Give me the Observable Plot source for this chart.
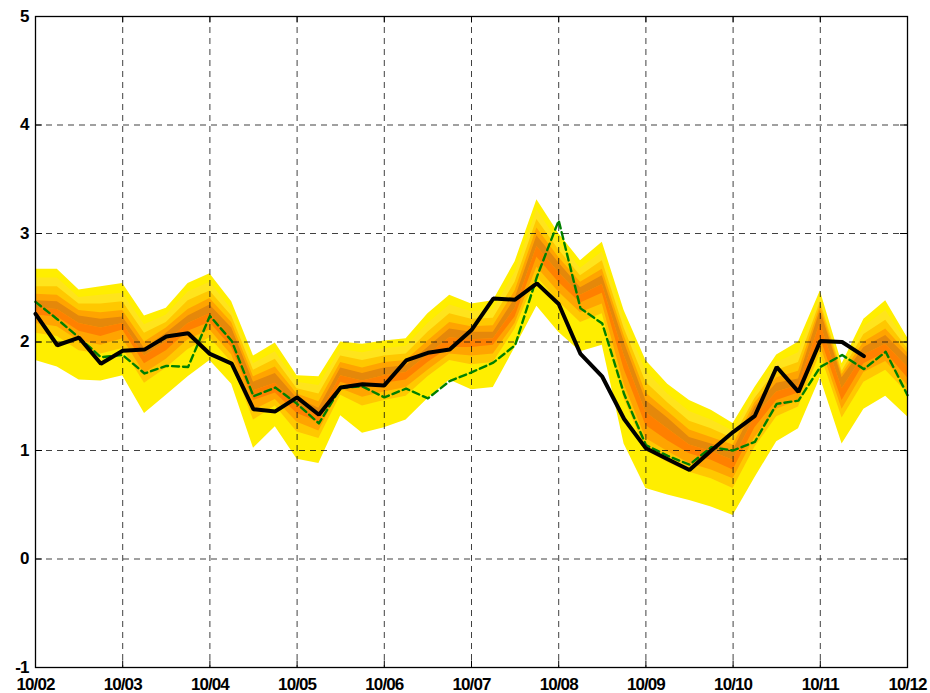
<!DOCTYPE html>
<html><head><meta charset="utf-8">
<script src="https://cdn.jsdelivr.net/npm/d3@7"></script>
<script src="https://cdn.jsdelivr.net/npm/@observablehq/plot@0.6"></script>
<style>html,body{margin:0;padding:0;background:#fff}</style>
</head><body><div id="chart"></div>
<script>
// Day tick labels (x = days since 10/02, 6-hourly steps)
const dayLabels = ["10/02","10/03","10/04","10/05","10/06","10/07","10/08","10/09","10/10","10/11","10/12"];
const yTicks = [-1, 0, 1, 2, 3, 4, 5];
const yLabels = ["-1","0","1","2","3","4","5"];

// Observed (black) 6-hourly values
const observed = [2.26,1.97,2.04,1.80,1.92,1.93,2.05,2.08,1.89,1.80,1.38,1.36,1.49,1.33,1.58,1.61,1.60,1.83,1.90,1.93,2.11,2.40,2.39,2.54,2.35,1.89,1.68,1.29,1.02,0.92,0.82,1.00,1.17,1.32,1.77,1.54,2.01,2.00,1.87];
// Control forecast (green dashed)
const control = [2.37,2.21,2.04,1.86,1.88,1.71,1.78,1.77,2.24,2.01,1.50,1.58,1.43,1.25,1.58,1.59,1.49,1.57,1.48,1.64,1.72,1.81,1.97,2.60,3.12,2.31,2.17,1.52,1.05,0.95,0.87,1.03,1.00,1.08,1.43,1.46,1.77,1.88,1.75,1.91,1.51];

// Ensemble spread band boundaries, top to bottom
const hi   = [2.67,2.67,2.48,2.51,2.54,2.24,2.31,2.54,2.63,2.37,1.87,1.99,1.69,1.68,2.00,1.98,2.01,2.03,2.26,2.43,2.35,2.38,2.74,3.31,3.00,2.75,2.92,2.29,1.83,1.61,1.46,1.37,1.25,1.58,1.88,2.00,2.47,1.80,2.21,2.38,2.04];
const lyHi = [2.59,2.59,2.41,2.43,2.45,2.16,2.25,2.46,2.55,2.30,1.80,1.91,1.63,1.60,1.93,1.90,1.94,1.96,2.17,2.34,2.28,2.30,2.64,3.22,2.92,2.68,2.83,2.21,1.73,1.52,1.36,1.28,1.18,1.53,1.81,1.90,2.42,1.76,2.14,2.29,1.99];
const gHi  = [2.51,2.51,2.35,2.35,2.37,2.08,2.18,2.38,2.47,2.24,1.74,1.84,1.57,1.52,1.87,1.83,1.87,1.89,2.09,2.26,2.21,2.22,2.55,3.13,2.85,2.61,2.75,2.13,1.63,1.44,1.27,1.20,1.11,1.48,1.74,1.81,2.37,1.73,2.07,2.20,1.94];
const oHi  = [2.44,2.43,2.29,2.27,2.29,2.00,2.13,2.30,2.40,2.18,1.68,1.77,1.52,1.45,1.81,1.76,1.81,1.83,2.01,2.18,2.14,2.15,2.47,3.05,2.78,2.55,2.67,2.06,1.53,1.36,1.19,1.12,1.05,1.44,1.67,1.73,2.33,1.70,2.00,2.12,1.90];
const cHi  = [2.38,2.37,2.24,2.21,2.23,1.94,2.08,2.24,2.34,2.13,1.63,1.71,1.48,1.39,1.76,1.71,1.76,1.78,1.95,2.12,2.09,2.09,2.40,2.98,2.73,2.50,2.61,2.00,1.46,1.30,1.12,1.06,1.00,1.40,1.62,1.66,2.29,1.67,1.95,2.06,1.86];
const mid  = [2.31,2.30,2.17,2.13,2.17,1.87,2.00,2.17,2.26,2.04,1.55,1.62,1.41,1.32,1.69,1.64,1.69,1.72,1.88,2.04,2.02,2.03,2.31,2.88,2.64,2.43,2.53,1.88,1.35,1.20,1.05,0.99,0.91,1.31,1.54,1.60,2.17,1.57,1.88,1.98,1.77];
const cLo  = [2.25,2.23,2.10,2.05,2.11,1.80,1.92,2.10,2.18,1.95,1.46,1.53,1.34,1.26,1.63,1.57,1.62,1.65,1.81,1.95,1.95,1.97,2.23,2.78,2.55,2.36,2.45,1.75,1.23,1.09,0.97,0.91,0.82,1.21,1.46,1.53,2.04,1.46,1.80,1.90,1.67];
const oLo  = [2.17,2.14,2.01,1.97,2.03,1.71,1.84,2.02,2.11,1.88,1.37,1.47,1.26,1.18,1.57,1.49,1.54,1.58,1.74,1.89,1.87,1.89,2.17,2.69,2.46,2.27,2.35,1.61,1.11,0.99,0.88,0.82,0.74,1.12,1.38,1.46,1.97,1.38,1.72,1.82,1.60];
const gLo  = [2.08,2.05,1.92,1.89,1.94,1.62,1.76,1.93,2.04,1.81,1.28,1.41,1.17,1.11,1.51,1.41,1.46,1.50,1.68,1.83,1.79,1.81,2.12,2.60,2.37,2.18,2.26,1.48,1.00,0.89,0.80,0.74,0.65,1.03,1.31,1.40,1.89,1.30,1.63,1.74,1.53];
const lo   = [1.83,1.77,1.65,1.64,1.69,1.34,1.51,1.68,1.83,1.61,1.02,1.22,0.92,0.88,1.32,1.16,1.21,1.28,1.48,1.65,1.56,1.58,1.95,2.33,2.09,1.91,1.97,1.06,0.65,0.59,0.54,0.48,0.40,0.75,1.08,1.20,1.67,1.06,1.38,1.50,1.31];

const stepsPerDay = 4;
const bandRows = hi.map((_, i) => ({
  x: i / stepsPerDay, hi: hi[i], lyHi: lyHi[i], gHi: gHi[i], oHi: oHi[i], cHi: cHi[i],
  mid: mid[i], cLo: cLo[i], oLo: oLo[i], gLo: gLo[i], lo: lo[i]
}));
const obsRows = observed.map((v, i) => ({x: i / stepsPerDay, y: v}));
const ctlRows = control.map((v, i) => ({x: i / stepsPerDay, y: v}));
const dayTicks = dayLabels.map((_, i) => i);
const xMin = 0, xMax = dayTicks.length - 1, yMin = yTicks[0], yMax = yTicks[yTicks.length - 1];
const tickLenX = (xMax - xMin) * 0.008, tickLenY = (yMax - yMin) * 0.01;

const band = (y1, y2, fill) => Plot.areaY(bandRows, {x: "x", y1, y2, fill, curve: "linear"});
const gridStyle = {stroke: "#111", strokeOpacity: 0.8, strokeWidth: 1, strokeDasharray: "6,5"};
const tickStyle = {stroke: "#000", strokeWidth: 1};

const chart = Plot.plot({
  width: 930, height: 693,
  marginLeft: 35, marginRight: 23, marginTop: 16, marginBottom: 26,
  style: {fontFamily: "'Liberation Sans',Arial,sans-serif", fontSize: "17px", fontWeight: "bold", letterSpacing: "-0.9px", color: "#000", background: "#fff"},
  x: {domain: [xMin, xMax], ticks: dayTicks, tickFormat: i => dayLabels[i], tickSize: 0, tickPadding: 10, label: null},
  y: {domain: [yMin, yMax], ticks: yTicks, tickFormat: v => yLabels[yTicks.indexOf(v)], tickSize: 0, tickPadding: 7, label: null},
  marks: [
    band("lo", "hi", "#FFEE00"),
    band("gLo", "lyHi", "#FFE41C"),
    band("gLo", "gHi", "#FFC800"),
    band("oLo", "oHi", "#FFA400"),
    band("mid", "cHi", "#E5880A"),
    band("cLo", "mid", "#FF8000"),
    Plot.ruleX(dayTicks.slice(1, -1), {...gridStyle}),
    Plot.ruleY(yTicks.slice(1, -1), {...gridStyle}),
    Plot.ruleY(yTicks, {x1: xMin, x2: xMin + tickLenX, ...tickStyle}),
    Plot.ruleY(yTicks, {x1: xMax - tickLenX, x2: xMax, ...tickStyle}),
    Plot.ruleX(dayTicks, {y1: yMin, y2: yMin + tickLenY, ...tickStyle}),
    Plot.ruleX(dayTicks, {y1: yMax - tickLenY, y2: yMax, ...tickStyle}),
    Plot.line(ctlRows, {x: "x", y: "y", stroke: "#008000", strokeWidth: 2.4, strokeDasharray: "7,4", curve: "linear"}),
    Plot.line(obsRows, {x: "x", y: "y", stroke: "#000", strokeWidth: 4, curve: "linear", strokeLinejoin: "miter"}),
    Plot.frame({stroke: "#000", strokeWidth: 1.3})
  ]
});
document.getElementById("chart").appendChild(chart);
</script>
</body></html>
